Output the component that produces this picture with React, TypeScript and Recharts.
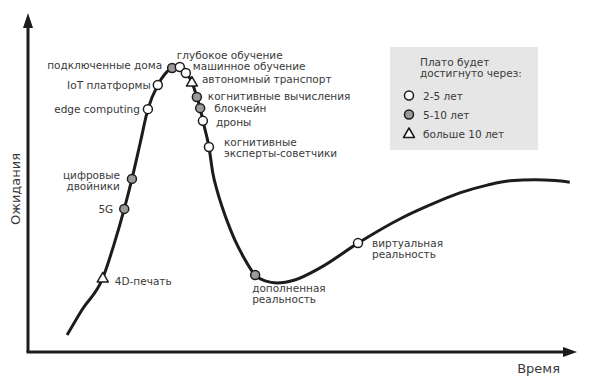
import { ComposedChart, Line, Scatter, XAxis, YAxis, Legend } from "recharts";

// hype curve, time (0-100) vs expectations (0-100)
const curveTime = [
  7.1, 9.8, 13.6, 15.6, 17.5, 18.9, 20.4, 21.8, 23.6, 24.9, 26.2, 26.9, 27.6, 28.7, 29.8, 30.7, 31.3, 31.8, 32.9,
  33.6, 34.5, 35.3, 36.4, 37.6, 39.1, 41.3, 43.1, 45.3, 48.5, 53.1, 60.0, 67.6, 73.1, 78.5, 83.5, 87.6, 92.2, 95.8,
  98.5
];
const curveExpect = [
  5.2, 12.9, 22.7, 32.8, 43.9, 53.1, 64.1, 74.5, 81.9, 85.3, 87.1, 87.7, 87.4, 85.6, 82.8, 78.2, 74.8, 70.9, 62.9,
  54.9, 48.8, 44.5, 39.3, 34.4, 29.4, 23.6, 21.8, 21.2, 22.1, 25.8, 33.4, 40.8, 45.1, 48.8, 51.2, 52.5, 52.8, 52.6,
  52.1
];

// technologies on the curve
const techNames = [
  "4D-печать",
  "5G",
  "цифровые\nдвойники",
  "edge computing",
  "IoT платформы",
  "подключенные дома",
  "глубокое обучение",
  "машинное обучение",
  "автономный транспорт",
  "когнитивные вычисления",
  "блокчейн",
  "дроны",
  "когнитивные\nэксперты-советчики",
  "дополненная\nреальность",
  "виртуальная\nреальность"
];
const techTime = [13.6, 17.5, 18.9, 21.8, 23.6, 26.2, 27.6, 28.7, 29.8, 30.7, 31.3, 31.8, 32.9, 41.3, 60.0];
const techExpect = [22.7, 43.9, 53.1, 74.5, 81.9, 87.1, 87.4, 85.6, 82.8, 78.2, 74.8, 70.9, 62.9, 23.6, 33.4];
// plateau: 1 = 2-5 лет, 2 = 5-10 лет, 3 = больше 10 лет
const techPlateau = [3, 2, 2, 1, 1, 2, 1, 1, 3, 2, 2, 1, 1, 2, 1];

const legendTitle = ["Плато будет", "достигнуто через:"];
const legendItems = ["2-5 лет", "5-10 лет", "больше 10 лет"];

// label placement next to each marker
const labelPos: Record<string, { dx: number; dy: number; anchor: "start" | "end" }> = {
  "4D-печать": { dx: 12, dy: 3, anchor: "start" },
  "5G": { dx: -11, dy: 0, anchor: "end" },
  "цифровые\nдвойники": { dx: -12, dy: -4, anchor: "end" },
  "edge computing": { dx: -8, dy: 0, anchor: "end" },
  "IoT платформы": { dx: -7, dy: 0, anchor: "end" },
  "подключенные дома": { dx: -10, dy: -3, anchor: "end" },
  "глубокое обучение": { dx: -3, dy: -12, anchor: "start" },
  "машинное обучение": { dx: 7, dy: -7, anchor: "start" },
  "автономный транспорт": { dx: 10, dy: -3, anchor: "start" },
  "когнитивные вычисления": { dx: 11, dy: -1, anchor: "start" },
  "блокчейн": { dx: 14, dy: 0, anchor: "start" },
  "дроны": { dx: 13, dy: 1, anchor: "start" },
  "когнитивные\nэксперты-советчики": { dx: 15, dy: -5, anchor: "start" },
  "дополненная\nреальность": { dx: -3, dy: 13, anchor: "start" },
  "виртуальная\nреальность": { dx: 14, dy: 0, anchor: "start" }
};

const curve = curveTime.map((t, i) => ({ t, e: curveExpect[i] }));
const techs = techNames.map((name, i) => ({ name, t: techTime[i], e: techExpect[i], plateau: techPlateau[i] }));

const FONT = "'DejaVu Sans', sans-serif";
const INK = "#1c1c1c";
const TEXT = "#3a3a3a";

function Marker({ x, y, plateau }: { x: number; y: number; plateau: number }) {
  if (plateau === 3) {
    return (
      <polygon
        points={`${x},${y - 5.5} ${x - 5.5},${y + 4} ${x + 5.5},${y + 4}`}
        fill="#fff"
        stroke={INK}
        strokeWidth={1.5}
        strokeLinejoin="round"
      />
    );
  }
  return <circle cx={x} cy={y} r={4.5} fill={plateau === 2 ? "#9a9a9a" : "#fff"} stroke={INK} strokeWidth={1.5} />;
}

function TechPoint(props: any) {
  const { cx, cy, payload } = props;
  const pos = labelPos[payload.name];
  const lines = payload.name.split("\n");
  return (
    <g>
      <Marker x={cx} y={cy} plateau={payload.plateau} />
      <text
        x={cx + pos.dx}
        y={cy + pos.dy}
        textAnchor={pos.anchor}
        dominantBaseline="central"
        fontFamily={FONT}
        fontSize={10.5}
        fill={TEXT}
      >
        {lines.map((l: string, i: number) => (
          <tspan key={i} x={cx + pos.dx} dy={i === 0 ? 0 : 11}>
            {l}
          </tspan>
        ))}
      </text>
    </g>
  );
}

function XAxisDecor(props: any) {
  const { x, y, width } = props.viewBox;
  const end = x + width - 1;
  return (
    <g>
      <line x1={x - 1.5} y1={y} x2={end - 12} y2={y} stroke={INK} strokeWidth={3} />
      <polygon points={`${end - 14},${y - 5} ${end},${y} ${end - 14},${y + 5}`} fill={INK} />
      <text x={end - 17} y={y + 21} textAnchor="end" fontFamily={FONT} fontSize={13} fill={TEXT}>
        Время
      </text>
    </g>
  );
}

function YAxisDecor(props: any) {
  const { x, y, width, height } = props.viewBox;
  const ax = x + width;
  return (
    <g>
      <polygon points={`${ax - 5},${y + 2} ${ax},${y - 13} ${ax + 5},${y + 2}`} fill={INK} />
      <text
        x={x + 15}
        y={y + height / 2}
        transform={`rotate(-90, ${x + 15}, ${y + height / 2})`}
        textAnchor="middle"
        dominantBaseline="central"
        fontFamily={FONT}
        fontSize={13}
        fill={TEXT}
      >
        Ожидания
      </text>
    </g>
  );
}

function PlateauLegend() {
  return (
    <div
      style={{
        background: "#e6e6e6",
        width: 148,
        height: 103,
        boxSizing: "border-box",
        padding: "10px 0 0 0",
        fontFamily: FONT,
        fontSize: 10.5,
        color: TEXT
      }}
    >
      <div style={{ paddingLeft: 30, lineHeight: "10.5px" }}>
        {legendTitle.map((l) => (
          <div key={l}>{l}</div>
        ))}
      </div>
      <div style={{ marginTop: 8 }}>
        {legendItems.map((l, i) => (
          <div key={l} style={{ display: "flex", alignItems: "center", height: 19 }}>
            <svg width={33} height={19}>
              <Marker x={19} y={9.5} plateau={i + 1} />
            </svg>
            <span>{l}</span>
          </div>
        ))}
      </div>
    </div>
  );
}

export default function App() {
  return (
    <div style={{ width: 591, height: 379, background: "#fff" }}>
      <style>{`body{margin:0}`}</style>
      <ComposedChart width={591} height={379} margin={{ top: 26, right: 13, bottom: 0, left: 0 }}>
        <XAxis
          type="number"
          dataKey="t"
          domain={[0, 100]}
          axisLine={false}
          tick={false}
          tickLine={false}
          height={27}
          label={<XAxisDecor />}
        />
        <YAxis
          type="number"
          dataKey="e"
          domain={[0, 100]}
          axisLine={{ stroke: INK, strokeWidth: 3 }}
          tick={false}
          tickLine={false}
          width={28}
          label={<YAxisDecor />}
        />
        <Legend
          layout="vertical"
          align="center"
          verticalAlign="middle"
          wrapperStyle={{ left: 390, top: 47, width: 148 }}
          content={<PlateauLegend />}
        />
        <Line
          data={curve}
          dataKey="e"
          type="monotone"
          stroke={INK}
          strokeWidth={3}
          dot={false}
          activeDot={false}
          isAnimationActive={false}
        />
        <Scatter data={techs} dataKey="e" shape={<TechPoint />} isAnimationActive={false} />
      </ComposedChart>
    </div>
  );
}
